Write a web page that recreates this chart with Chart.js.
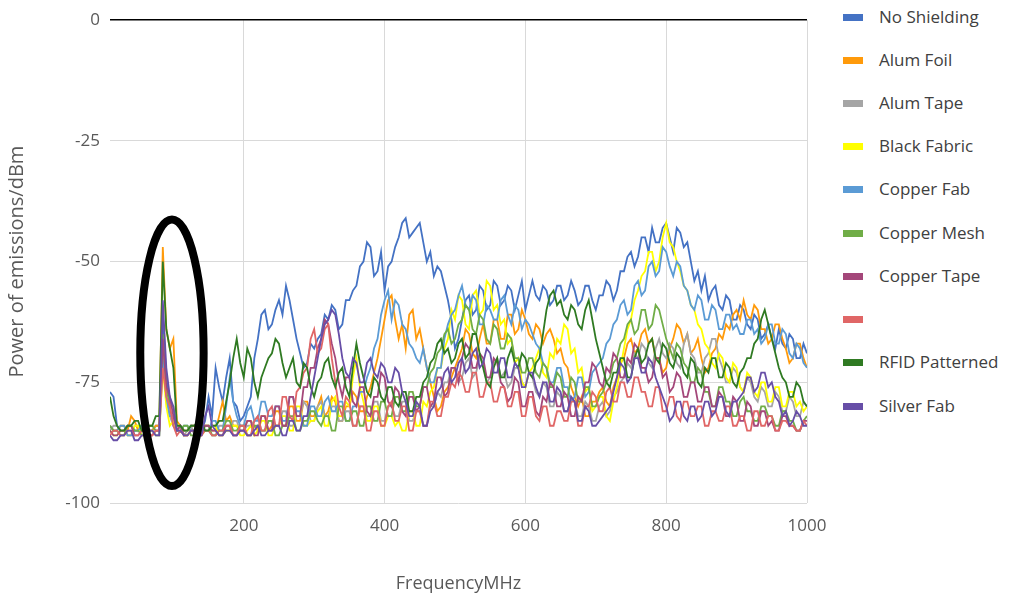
<!DOCTYPE html>
<html>
<head>
<meta charset="utf-8">
<script src="https://cdn.jsdelivr.net/npm/chart.js@4.4.0/dist/chart.umd.min.js"></script>
<style>
  body { margin: 0; background: #fff; font-family: "Open Sans", sans-serif; }
  #wrap { position: relative; width: 1011px; height: 599px; }
  #emissionChart { position: absolute; left: 0; top: 0; }
  #legend { position: absolute; left: 843px; top: 0; }
  .item { position: absolute; left: 0; width: 170px; height: 24px; }
  .item span.box { position: absolute; left: 0; top: 9px; width: 20px; height: 7px; }
  .item span.txt { position: absolute; left: 36px; top: 0; font-size: 17px; line-height: 24px; color: #404040; white-space: nowrap; }
</style>
</head>
<body>
<div id="wrap">
  <canvas id="emissionChart" width="830" height="599"></canvas>
  <div id="legend"></div>
</div>
<script>
// frequency points (MHz), one row per 100 MHz
const frequencies = [
  10, 15, 20, 25, 30, 35, 40, 45, 50, 55, 60, 65, 70, 75, 80, 85, 90, 95, 100, 105,
  110, 115, 120, 125, 130, 135, 140, 145, 150, 155, 160, 165, 170, 175, 180, 185, 190, 195, 200, 205,
  210, 215, 220, 225, 230, 235, 240, 245, 250, 255, 260, 265, 270, 275, 280, 285, 290, 295, 300, 305,
  310, 315, 320, 325, 330, 335, 340, 345, 350, 355, 360, 365, 370, 375, 380, 385, 390, 395, 400, 405,
  410, 415, 420, 425, 430, 435, 440, 445, 450, 455, 460, 465, 470, 475, 480, 485, 490, 495, 500, 505,
  510, 515, 520, 525, 530, 535, 540, 545, 550, 555, 560, 565, 570, 575, 580, 585, 590, 595, 600, 605,
  610, 615, 620, 625, 630, 635, 640, 645, 650, 655, 660, 665, 670, 675, 680, 685, 690, 695, 700, 705,
  710, 715, 720, 725, 730, 735, 740, 745, 750, 755, 760, 765, 770, 775, 780, 785, 790, 795, 800, 805,
  810, 815, 820, 825, 830, 835, 840, 845, 850, 855, 860, 865, 870, 875, 880, 885, 890, 895, 900, 905,
  910, 915, 920, 925, 930, 935, 940, 945, 950, 955, 960, 965, 970, 975, 980, 985, 990, 995, 1000
];

const xTicks = [200, 400, 600, 800, 1000];

// measured power (dBm) per material
const noShielding = [
  -77, -78, -84, -85, -85, -84, -84, -85, -85, -84, -84, -85, -85, -84, -84, -62, -74, -80, -84, -85,
  -84, -85, -85, -84, -84, -85, -85, -83, -78, -82, -72, -76, -79, -74, -70, -79, -80, -83, -82, -80,
  -78, -70, -66, -61, -60, -64, -63, -60, -58, -61, -55, -58, -62, -66, -69, -72, -71, -67, -68, -66,
  -65, -61, -62, -59, -60, -64, -63, -58, -58, -56, -55, -51, -50, -46, -47, -53, -52, -48, -56, -51,
  -50, -47, -45, -42, -41, -45, -44, -43, -42, -46, -50, -48, -53, -51, -52, -55, -58, -62, -68, -66,
  -62, -58, -57, -61, -60, -55, -56, -60, -59, -54, -55, -59, -58, -55, -56, -60, -57, -54, -60, -57,
  -54, -57, -58, -55, -56, -59, -58, -55, -55, -58, -57, -54, -56, -59, -58, -55, -55, -58, -60, -57,
  -57, -54, -55, -58, -56, -52, -52, -49, -48, -51, -49, -45, -45, -48, -43, -46, -46, -43, -42, -45,
  -48, -43, -44, -47, -46, -50, -54, -52, -56, -53, -58, -56, -55, -59, -60, -57, -58, -62, -62, -59,
  -60, -63, -64, -61, -62, -66, -65, -63, -66, -68, -64, -67, -68, -65, -66, -70, -70, -67, -69
];

const alumFoil = [
  -84, -85, -85, -84, -84, -85, -82, -83, -85, -84, -83, -85, -85, -84, -84, -47, -64, -68, -66, -83,
  -84, -85, -85, -84, -84, -85, -85, -84, -84, -85, -85, -82, -79, -83, -82, -84, -84, -85, -85, -83,
  -83, -84, -85, -82, -82, -85, -84, -81, -81, -84, -84, -80, -80, -83, -83, -79, -79, -82, -82, -80,
  -78, -82, -81, -78, -79, -83, -83, -80, -80, -77, -78, -81, -81, -78, -76, -73, -70, -66, -62, -58,
  -57, -62, -66, -63, -68, -61, -60, -66, -64, -68, -72, -75, -78, -81, -80, -77, -76, -74, -72, -70,
  -68, -64, -65, -69, -70, -66, -63, -67, -67, -62, -62, -66, -66, -61, -61, -65, -64, -60, -62, -65,
  -66, -63, -64, -67, -65, -64, -66, -69, -68, -71, -72, -76, -78, -80, -78, -82, -82, -79, -79, -77,
  -76, -79, -80, -76, -74, -71, -70, -67, -66, -69, -68, -65, -64, -67, -66, -70, -70, -73, -72, -68,
  -66, -63, -64, -67, -65, -69, -68, -66, -70, -73, -72, -69, -68, -65, -66, -63, -64, -61, -60, -62,
  -58, -61, -62, -59, -60, -64, -64, -67, -66, -63, -63, -66, -68, -71, -70, -67, -67, -70, -72
];

const alumTape = [
  -85, -84, -84, -85, -85, -86, -86, -84, -84, -85, -85, -86, -86, -85, -85, -68, -78, -82, -84, -85,
  -84, -86, -85, -84, -86, -85, -84, -85, -85, -86, -86, -84, -84, -85, -85, -83, -83, -85, -85, -84,
  -84, -83, -82, -85, -85, -83, -83, -84, -84, -81, -81, -84, -84, -82, -82, -79, -80, -83, -83, -80,
  -79, -82, -82, -80, -80, -83, -83, -81, -81, -84, -84, -80, -80, -82, -82, -79, -79, -83, -83, -80,
  -80, -82, -82, -79, -79, -83, -83, -81, -81, -84, -84, -80, -80, -77, -78, -75, -75, -72, -72, -75,
  -74, -71, -70, -74, -73, -70, -71, -75, -74, -71, -70, -74, -73, -76, -75, -72, -72, -75, -76, -73,
  -74, -77, -78, -75, -76, -80, -80, -77, -78, -81, -81, -78, -79, -82, -82, -79, -80, -83, -83, -80,
  -79, -82, -81, -78, -77, -75, -74, -71, -72, -69, -70, -67, -68, -71, -72, -68, -66, -69, -70, -67,
  -68, -71, -72, -67, -65, -69, -70, -73, -73, -70, -69, -66, -66, -70, -72, -75, -75, -72, -73, -76,
  -77, -74, -75, -78, -79, -76, -77, -80, -80, -77, -78, -81, -81, -78, -79, -82, -82, -79, -80
];

const blackFabric = [
  -85, -86, -86, -85, -85, -86, -86, -84, -84, -86, -86, -85, -85, -86, -86, -72, -80, -84, -83, -85,
  -85, -86, -86, -85, -85, -86, -86, -85, -85, -84, -84, -86, -86, -85, -85, -84, -84, -86, -86, -85,
  -84, -86, -85, -83, -83, -86, -86, -84, -84, -82, -82, -85, -85, -80, -80, -84, -84, -83, -83, -81,
  -80, -84, -84, -79, -78, -82, -82, -79, -80, -74, -70, -76, -79, -83, -83, -80, -80, -84, -84, -82,
  -82, -84, -83, -85, -85, -81, -81, -84, -84, -79, -80, -77, -76, -72, -72, -68, -66, -60, -62, -57,
  -58, -63, -64, -57, -56, -61, -60, -54, -55, -60, -59, -63, -62, -67, -66, -71, -70, -75, -76, -73,
  -72, -70, -68, -73, -74, -69, -70, -66, -67, -63, -64, -69, -68, -73, -72, -77, -76, -81, -80, -78,
  -78, -82, -83, -79, -76, -72, -68, -64, -62, -58, -56, -53, -52, -48, -48, -52, -50, -45, -42, -46,
  -47, -50, -52, -55, -56, -59, -60, -63, -64, -67, -68, -71, -72, -69, -70, -74, -75, -71, -72, -76,
  -77, -73, -74, -77, -78, -75, -75, -79, -79, -76, -76, -80, -80, -77, -77, -80, -79, -81, -80
];

const copperFab = [
  -84, -85, -85, -84, -84, -86, -86, -85, -85, -84, -84, -85, -85, -86, -86, -70, -78, -82, -82, -85,
  -85, -84, -84, -85, -85, -84, -84, -85, -85, -83, -83, -85, -85, -80, -74, -79, -82, -84, -84, -81,
  -80, -83, -83, -79, -79, -82, -82, -80, -80, -83, -83, -78, -78, -81, -81, -84, -84, -80, -80, -82,
  -82, -79, -78, -81, -81, -79, -79, -83, -83, -80, -80, -77, -77, -74, -72, -68, -66, -61, -58, -56,
  -62, -58, -59, -63, -64, -67, -68, -70, -71, -68, -72, -75, -75, -72, -72, -66, -63, -61, -60, -57,
  -55, -59, -60, -57, -58, -63, -63, -59, -60, -62, -62, -58, -57, -61, -63, -59, -60, -64, -62, -63,
  -65, -67, -68, -71, -72, -75, -75, -72, -72, -76, -76, -79, -78, -74, -74, -78, -77, -73, -72, -71,
  -70, -67, -66, -63, -62, -59, -58, -61, -60, -55, -54, -57, -56, -51, -50, -53, -52, -47, -48, -51,
  -53, -50, -51, -55, -56, -59, -60, -57, -58, -62, -62, -59, -60, -64, -64, -61, -61, -64, -63, -65,
  -65, -62, -62, -65, -64, -67, -66, -63, -63, -67, -67, -64, -65, -69, -70, -67, -68, -71, -72
];

const copperMesh = [
  -84, -85, -85, -86, -86, -84, -84, -85, -85, -86, -86, -84, -84, -85, -85, -65, -76, -80, -80, -85,
  -85, -84, -84, -86, -86, -85, -85, -84, -84, -86, -86, -85, -85, -83, -83, -85, -85, -84, -84, -86,
  -86, -84, -84, -85, -85, -83, -83, -86, -86, -84, -84, -82, -82, -85, -85, -83, -83, -81, -81, -83,
  -84, -82, -82, -85, -85, -80, -80, -83, -83, -81, -81, -84, -84, -80, -80, -83, -83, -79, -79, -82,
  -82, -78, -78, -81, -81, -77, -77, -80, -80, -76, -76, -73, -72, -69, -68, -65, -64, -67, -66, -63,
  -62, -59, -60, -64, -65, -61, -62, -66, -67, -63, -64, -68, -68, -65, -66, -70, -70, -73, -73, -70,
  -70, -73, -74, -71, -72, -76, -76, -73, -74, -78, -78, -74, -75, -79, -79, -76, -76, -80, -80, -78,
  -77, -75, -74, -71, -70, -67, -66, -63, -62, -65, -64, -60, -60, -64, -63, -59, -60, -63, -66, -68,
  -70, -67, -68, -71, -72, -75, -75, -72, -73, -77, -77, -80, -80, -76, -76, -79, -79, -82, -82, -79,
  -78, -81, -81, -83, -83, -80, -80, -82, -82, -84, -84, -81, -81, -83, -83, -85, -85, -83, -82
];

const copperTape = [
  -85, -86, -86, -85, -85, -84, -84, -86, -86, -85, -85, -86, -86, -85, -85, -66, -76, -78, -82, -85,
  -84, -86, -86, -85, -85, -86, -86, -84, -84, -85, -85, -86, -86, -84, -84, -86, -86, -85, -85, -83,
  -83, -86, -86, -82, -82, -85, -85, -80, -80, -84, -84, -78, -78, -82, -82, -76, -76, -72, -72, -68,
  -66, -62, -63, -67, -70, -75, -78, -74, -74, -79, -80, -76, -76, -81, -82, -78, -78, -73, -74, -79,
  -80, -76, -77, -81, -82, -78, -78, -81, -80, -76, -76, -80, -79, -74, -74, -78, -77, -72, -72, -75,
  -70, -67, -68, -72, -72, -69, -70, -74, -74, -70, -71, -75, -76, -79, -78, -74, -75, -80, -80, -77,
  -77, -81, -82, -78, -79, -75, -76, -80, -80, -77, -78, -82, -82, -78, -79, -75, -75, -71, -72, -75,
  -76, -72, -73, -69, -70, -74, -74, -70, -71, -67, -68, -72, -72, -75, -74, -70, -70, -74, -73, -77,
  -76, -73, -74, -78, -78, -75, -75, -79, -79, -76, -76, -80, -80, -77, -78, -82, -82, -78, -79, -83,
  -83, -79, -80, -84, -84, -81, -81, -84, -83, -85, -85, -82, -82, -84, -84, -85, -85, -83, -83
];

const unnamedSeries = [
  -86, -85, -85, -86, -86, -85, -85, -86, -86, -85, -85, -86, -86, -85, -85, -72, -78, -80, -84, -86,
  -85, -86, -86, -85, -85, -86, -86, -85, -85, -86, -86, -85, -85, -84, -84, -86, -86, -84, -84, -86,
  -86, -83, -82, -85, -85, -81, -80, -84, -84, -78, -78, -82, -83, -77, -76, -73, -72, -66, -64, -69,
  -68, -64, -63, -70, -75, -80, -82, -78, -79, -84, -84, -80, -80, -85, -85, -81, -81, -84, -84, -80,
  -79, -83, -83, -80, -80, -85, -85, -81, -81, -84, -84, -79, -79, -82, -82, -78, -78, -75, -76, -73,
  -74, -77, -77, -73, -73, -78, -78, -75, -75, -79, -79, -76, -76, -80, -80, -77, -77, -82, -82, -78,
  -78, -82, -83, -80, -80, -84, -84, -81, -81, -83, -83, -79, -79, -84, -84, -80, -80, -77, -78, -81,
  -81, -77, -76, -79, -79, -75, -75, -78, -78, -74, -74, -77, -77, -80, -80, -76, -76, -81, -81, -78,
  -78, -82, -83, -79, -79, -82, -82, -80, -80, -84, -84, -81, -81, -83, -83, -80, -80, -84, -84, -82,
  -82, -85, -85, -81, -81, -84, -84, -82, -82, -85, -85, -83, -83, -84, -84, -85, -85, -83, -84
];

const rfidPatterned = [
  -78, -82, -84, -85, -85, -84, -84, -83, -83, -85, -85, -84, -84, -82, -82, -50, -64, -68, -72, -84,
  -84, -85, -85, -84, -84, -83, -83, -85, -85, -84, -84, -83, -83, -79, -75, -70, -66, -71, -74, -68,
  -70, -75, -78, -74, -72, -70, -69, -66, -67, -71, -74, -72, -70, -75, -76, -71, -72, -76, -78, -75,
  -74, -71, -70, -74, -76, -73, -72, -76, -78, -72, -67, -71, -74, -77, -78, -74, -75, -78, -79, -76,
  -76, -79, -80, -77, -77, -81, -81, -78, -78, -75, -74, -71, -70, -67, -66, -69, -68, -71, -70, -67,
  -66, -70, -69, -65, -65, -69, -72, -75, -76, -72, -70, -74, -74, -70, -68, -71, -72, -69, -70, -73,
  -74, -71, -70, -65, -60, -57, -56, -59, -58, -61, -62, -59, -60, -63, -64, -60, -58, -62, -66, -69,
  -72, -75, -76, -73, -73, -70, -70, -74, -74, -70, -68, -71, -70, -67, -66, -70, -71, -67, -68, -71,
  -72, -69, -70, -73, -74, -70, -71, -75, -76, -72, -73, -70, -70, -74, -74, -71, -72, -75, -76, -73,
  -72, -70, -70, -67, -66, -62, -60, -63, -66, -69, -72, -74, -75, -78, -78, -75, -76, -79, -80
];

const silverFab = [
  -86, -87, -87, -86, -86, -85, -85, -87, -87, -86, -86, -85, -85, -86, -86, -58, -72, -78, -80, -85,
  -85, -86, -86, -85, -85, -86, -86, -82, -80, -84, -85, -86, -86, -85, -85, -86, -86, -85, -85, -86,
  -86, -85, -84, -86, -86, -85, -85, -84, -84, -86, -86, -83, -83, -85, -85, -82, -82, -78, -74, -70,
  -66, -63, -62, -60, -61, -65, -70, -73, -74, -70, -71, -75, -75, -71, -70, -73, -74, -71, -72, -75,
  -75, -72, -73, -77, -79, -82, -82, -79, -80, -84, -84, -81, -80, -77, -76, -73, -72, -75, -74, -71,
  -70, -73, -72, -69, -68, -72, -71, -68, -69, -73, -73, -70, -70, -74, -74, -71, -72, -76, -76, -73,
  -73, -76, -78, -75, -75, -79, -79, -76, -77, -81, -81, -78, -79, -83, -83, -80, -81, -84, -84, -83,
  -82, -81, -80, -77, -74, -71, -72, -75, -74, -70, -70, -73, -73, -70, -71, -74, -76, -78, -80, -83,
  -82, -79, -79, -82, -83, -80, -80, -83, -82, -79, -79, -82, -81, -78, -78, -81, -82, -79, -79, -78,
  -77, -74, -74, -77, -76, -73, -73, -76, -75, -78, -79, -82, -81, -84, -83, -81, -82, -84, -84
];

const seriesNames = ['No Shielding', 'Alum Foil', 'Alum Tape', 'Black Fabric', 'Copper Fab',
  'Copper Mesh', 'Copper Tape', '', 'RFID Patterned', 'Silver Fab'];
const seriesValues = [noShielding, alumFoil, alumTape, blackFabric, copperFab,
  copperMesh, copperTape, unnamedSeries, rfidPatterned, silverFab];
const seriesColors = ['#4472C4', '#FF9A0A', '#A5A5A5', '#FFFF00', '#5B9BD5',
  '#70AD47', '#A4477A', '#E06666', '#2F7A22', '#674EA7'];

// black ring drawn round the spike near 85 MHz (axis units)
const ringCenter = { x: 98, y: -68.9 };
const ringRadius = { x: 45, y: 27.6 };

const fontFamily = '"Open Sans", sans-serif';

const ringPlugin = {
    id: 'spikeRing',
    afterDatasetsDraw(chart) {
        const { ctx, scales } = chart;
        const cx = scales.x.getPixelForValue(ringCenter.x);
        const cy = scales.y.getPixelForValue(ringCenter.y);
        const rx = scales.x.getPixelForValue(ringCenter.x + ringRadius.x) - cx;
        const ry = scales.y.getPixelForValue(ringCenter.y - ringRadius.y) - cy;
        ctx.save();
        ctx.beginPath();
        ctx.ellipse(cx, cy, rx, ry, 0, 0, Math.PI * 2);
        ctx.lineWidth = 8;
        ctx.strokeStyle = '#000000';
        ctx.stroke();
        ctx.restore();
    }
};

const datasets = seriesValues.map((vals, i) => ({
    label: seriesNames[i],
    data: vals.map((v, j) => ({ x: frequencies[j], y: v })),
    borderColor: seriesColors[i],
    backgroundColor: seriesColors[i],
    borderWidth: 1.8,
    pointRadius: 0,
    tension: 0,
    fill: false,
    order: seriesValues.length - i // later series drawn on top, like the original
}));

new Chart(document.getElementById('emissionChart').getContext('2d'), {
    type: 'line',
    data: { datasets: datasets },
    options: {
        responsive: false,
        animation: false,
        layout: { padding: { top: 16, right: 23, left: 0, bottom: 0 } },
        plugins: {
            legend: { display: false },
            tooltip: { enabled: false }
        },
        scales: {
            x: {
                type: 'linear',
                min: 10,
                max: 1000,
                afterBuildTicks: (scale) => { scale.ticks = xTicks.map(v => ({ value: v })); },
                afterFit: (scale) => {
                    scale.height = 96;
                    scale.paddingLeft = 0;
                    scale.paddingRight = 0;
                },
                grid: { color: '#D9D9D9', lineWidth: 1, drawTicks: false },
                border: { display: false },
                ticks: {
                    padding: 13,
                    color: '#595959',
                    font: { family: fontFamily, size: 17 },
                    callback: (v) => String(v)
                },
                title: {
                    display: true,
                    text: 'FrequencyMHz',
                    color: '#595959',
                    font: { family: fontFamily, size: 18 },
                    padding: { top: 0, bottom: 4 }
                }
            },
            y: {
                min: -100,
                max: 0,
                afterFit: (scale) => { scale.width = 110; },
                grid: {
                    color: (c) => c.tick && c.tick.value === 0 ? '#000000' : '#D9D9D9',
                    lineWidth: (c) => c.tick && c.tick.value === 0 ? 1.5 : 1,
                    drawTicks: false
                },
                border: { display: false },
                ticks: { stepSize: 25, padding: 10, color: '#595959', font: { family: fontFamily, size: 17 } },
                title: {
                    display: true,
                    text: 'Power of emissions/dBm',
                    color: '#595959',
                    font: { family: fontFamily, size: 20 },
                    padding: { top: 5, bottom: 0 }
                }
            }
        }
    },
    plugins: [ringPlugin]
});

// legend on the right
const legendRows = [17, 60, 103, 146, 189, 233, 276, 319, 362, 406];
const legend = document.getElementById('legend');
seriesNames.forEach((name, i) => {
    const item = document.createElement('div');
    item.className = 'item';
    item.style.top = (legendRows[i] - 12) + 'px';
    item.innerHTML = '<span class="box" style="background:' + seriesColors[i] + '"></span>' +
        '<span class="txt">' + name + '</span>';
    legend.appendChild(item);
});
</script>
</body>
</html>
